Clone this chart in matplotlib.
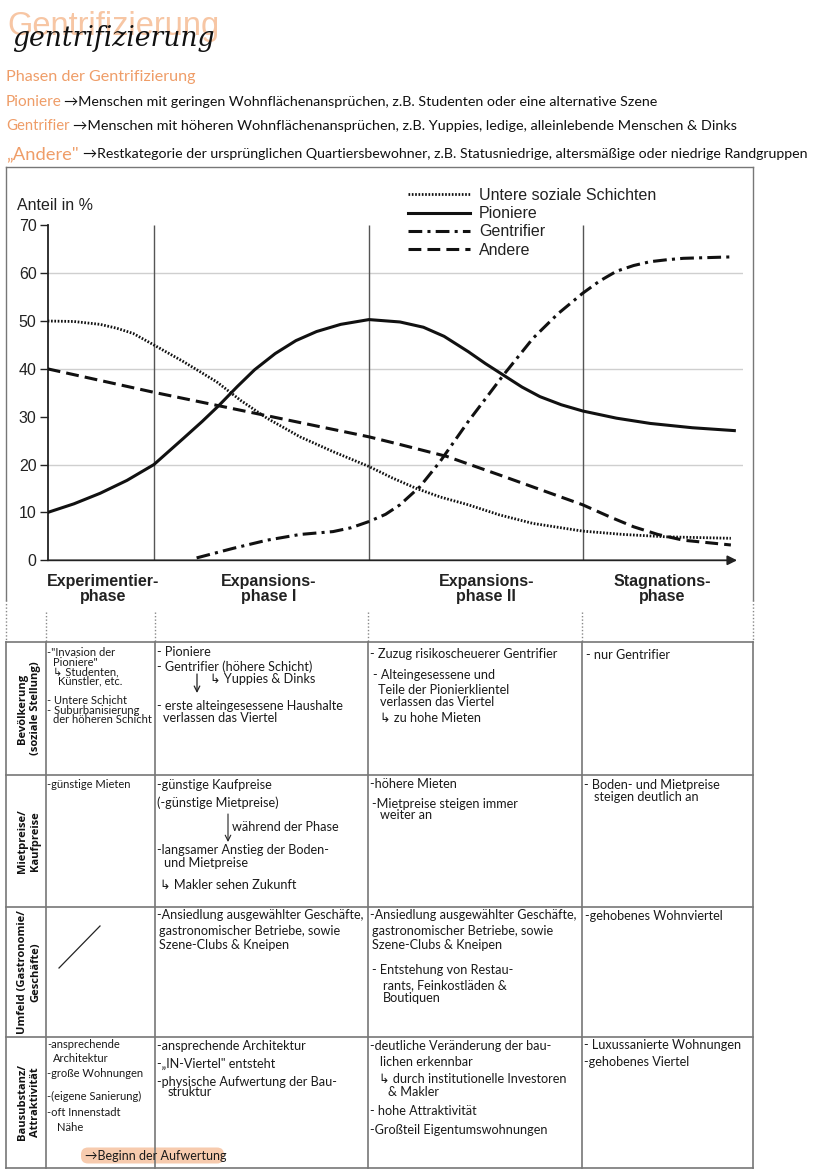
import matplotlib
matplotlib.use("Agg")
import matplotlib.pyplot as plt
from matplotlib.patches import FancyBboxPatch

# ---------------- data ----------------
y_ticks = [0, 10, 20, 30, 40, 50, 60, 70]
grid_levels = [20, 40, 60]
phase_bounds = [15.4, 46.6, 77.6]          # position units on 0..100 time axis
phase_label_pos = [8.0, 32.0, 63.6, 89.1]
phase_labels = ["Experimentier-\nphase", "Expansions-\nphase I",
                "Expansions-\nphase II", "Stagnations-\nphase"]

series_names = ["Untere soziale Schichten", "Pioniere", "Gentrifier", "Andere"]

unt_x = [0, 3.8, 7.6, 10.0, 12.4, 15.4, 19.7, 24.5, 28.0, 31.8, 36.6, 41.4, 46.6, 50.0,
         53.5, 57.0, 61.0, 65.5, 70.4, 77.6, 83.5, 89.8, 99.1]
unt_y = [50, 49.9, 49.3, 48.5, 47.4, 45.0, 41.5, 37.3, 33.4, 29.7, 25.8, 22.7, 19.6, 17.2,
         15.0, 13.2, 11.6, 9.5, 7.7, 6.1, 5.4, 4.9, 4.6]

pio_x = [0, 3.8, 7.6, 11.5, 15.4, 19.7, 22.4, 24.8, 27.5, 30.0, 33.0, 36.0, 39.0, 42.5,
         46.6, 51.1, 54.5, 57.5, 61.0, 63.5, 66.1, 68.8, 71.4, 74.5, 77.6, 82.5, 87.4,
         93.5, 99.6]
pio_y = [10, 11.8, 14.0, 16.7, 20, 25.5, 29.0, 32.3, 36.3, 39.8, 43.2, 45.9, 47.8, 49.3,
         50.3, 49.8, 48.7, 46.8, 43.6, 41.1, 38.7, 36.2, 34.2, 32.5, 31.2, 29.7, 28.6,
         27.7, 27.1]

gen_x = [21.6, 26.9, 31.8, 36.6, 41.4, 44.0, 46.6, 49.0, 51.1, 54.0, 56.9, 61.0, 66.1,
         70.4, 74.0, 77.6, 80.0, 82.5, 85.0, 87.4, 89.8, 92.2, 99.2]
gen_y = [0.5, 2.5, 4.2, 5.4, 6.0, 6.8, 8.1, 9.6, 11.6, 15.4, 20.6, 29.0, 38.7,
         46.4, 51.5, 55.8, 58.3, 60.4, 61.6, 62.4, 62.8, 63.1, 63.4]

and_x = [0, 15.4, 24.8, 46.6, 51.1, 57.9, 65.6, 77.6, 81.5, 85.0, 88.5, 92.2, 99.1]
and_y = [40, 35.1, 32.3, 25.8, 24.2, 21.7, 17.8, 11.6, 9.1, 7.0, 5.4, 4.2, 3.2]

row_labels = ["Bevölkerung\n(soziale Stellung)", "Mietpreise/\nKaufpreise",
              "Umfeld (Gastronomie/\nGeschäfte)", "Bausubstanz/\nAttraktivität"]

notes_row1 = [
    (47, 652, '-"Invasion der'), (53, 662.5, 'Pioniere"'), (53, 672, '↳ Studenten,'),
    (58, 681, 'Künstler, etc.'), (47, 700, '- Untere Schicht'), (47, 710, '- Suburbanisierung'),
    (53, 719.5, 'der höheren Schicht'),
    (157, 652, '- Pioniere'), (157, 667, '- Gentrifier (höhere Schicht)'),
    (210, 679, '↳ Yuppies & Dinks'), (157, 706, '- erste alteingesessene Haushalte'),
    (163, 717.5, 'verlassen das Viertel'),
    (370, 653.5, '- Zuzug risikoscheuerer Gentrifier'), (373, 675, '- Alteingesessene und'),
    (378, 690, 'Teile der Pionierklientel'), (380, 702, 'verlassen das Viertel'),
    (380, 717.5, '↳ zu hohe Mieten'),
    (586, 655, '- nur Gentrifier'),
]
notes_row2 = [
    (47, 784, '-günstige Mieten'),
    (157, 785, '-günstige Kaufpreise'), (157, 803, '(-günstige Mietpreise)'),
    (232, 827, 'während der Phase'), (157, 850, '-langsamer Anstieg der Boden-'),
    (164, 863, 'und Mietpreise'), (160, 885, '↳ Makler sehen Zukunft'),
    (370, 783.5, '-höhere Mieten'), (372, 803.5, '-Mietpreise steigen immer'),
    (380, 815, 'weiter an'),
    (584, 785, '- Boden- und Mietpreise'), (594, 797, 'steigen deutlich an'),
]
notes_row3 = [
    (157, 915, '-Ansiedlung ausgewählter Geschäfte,'), (159, 931, 'gastronomischer Betriebe, sowie'),
    (159, 945, 'Szene-Clubs & Kneipen'),
    (370, 915, '-Ansiedlung ausgewählter Geschäfte,'), (372, 931, 'gastronomischer Betriebe, sowie'),
    (372, 945, 'Szene-Clubs & Kneipen'), (372, 970, '- Entstehung von Restau-'),
    (383, 985, 'rants, Feinkostläden &'), (383, 998.5, 'Boutiquen'),
    (585, 916, '-gehobenes Wohnviertel'),
]
notes_row4 = [
    (47, 1045, '-ansprechende'), (53, 1058.5, 'Architektur'), (47, 1073.5, '-große Wohnungen'),
    (47, 1096.5, '-(eigene Sanierung)'), (47, 1112.5, '-oft Innenstadt'), (57, 1127.5, 'Nähe'),
    (157, 1046, '-ansprechende Architektur'), (157, 1063.5, '-„IN-Viertel" entsteht'),
    (157, 1081.5, '-physische Aufwertung der Bau-'), (168, 1092.5, 'struktur'),
    (370, 1046, '-deutliche Veränderung der bau-'), (380, 1061.5, 'lichen erkennbar'),
    (379, 1078.5, '↳ durch institutionelle Investoren'), (388, 1091.5, '& Makler'),
    (370, 1111, '- hohe Attraktivität'), (370, 1130, '-Großteil Eigentumswohnungen'),
    (584, 1045, '- Luxussanierte Wohnungen'), (584, 1062.5, '-gehobenes Viertel'),
]

# ---------------- layout ----------------
W, H = 828, 1171
fig = plt.figure(figsize=(W / 100, H / 100), dpi=100)
fig.patch.set_facecolor("white")
page = fig.add_axes([0, 0, 1, 1])
page.set_xlim(0, W)
page.set_ylim(H, 0)
page.axis("off")
renderer = fig.canvas.get_renderer()

HAND = ["Lato", "DejaVu Sans"]
ORANGE = "#ef9d68"
PEACH = "#f7c6a4"
LINE = "#777777"


def put(x, y, s, width=None, size=8, **kw):
    kw.setdefault("family", HAND)
    t = page.text(x, y, s, fontsize=size, va="center", ha="left", **kw)
    if width:
        bb = t.get_window_extent(renderer)
        t.set_fontsize(size * width / bb.width)
    return t


# header
put(7, 27, "Gentrifizierung", width=212, size=30, color=PEACH,
    family=["Liberation Sans Narrow", "Liberation Sans", "DejaVu Sans"])
put(12, 39, "gentrifizierung", width=203, size=18, color="#111111",
    family=["DejaVu Serif"], style="italic")
put(6, 76.7, "Phasen der Gentrifizierung", width=190, size=11, color=ORANGE)
put(6, 101.7, "Pioniere", width=56, size=10, color=ORANGE)
put(64.4, 101.7, "→Menschen mit geringen Wohnflächenansprüchen, z.B. Studenten oder eine alternative Szene",
    width=598, size=8, color="#111111")
put(6, 126, "Gentrifier", width=64, size=10, color=ORANGE)
put(72.9, 126, "→Menschen mit höheren Wohnflächenansprüchen, z.B. Yuppies, ledige, alleinlebende Menschen & Dinks",
    width=669, size=8, color="#111111")
put(6, 154, "„Andere\"", width=73, size=10, color=ORANGE)
put(83.4, 154, "→Restkategorie der ursprünglichen Quartiersbewohner, z.B. Statusniedrige, altersmäßige oder niedrige Randgruppen",
    width=730, size=8, color="#111111")

# chart frame + connectors
page.plot([6, 753], [167, 167], color=LINE, lw=1)
page.plot([6, 6], [167, 600], color=LINE, lw=1)
page.plot([753, 753], [167, 600], color=LINE, lw=1)
for xx in [6, 753]:
    page.plot([xx, xx], [600, 642], color="#888888", lw=1, ls=(0, (1, 1.5)))
for xx in [46, 155, 368, 582]:
    page.plot([xx, xx], [612, 642], color="#888888", lw=1, ls=(0, (1, 1.5)))

# table
cols = [6, 46, 155, 368, 582, 753]
rows = [642, 775, 907, 1037, 1168]
pill = FancyBboxPatch((81, 1147.5), 143, 16, boxstyle="round,pad=0,rounding_size=7",
                      facecolor="#f7cbae", edgecolor="none", zorder=1)
page.add_patch(pill)
for yy in rows:
    page.plot([cols[0], cols[-1]], [yy, yy], color=LINE, lw=1.2, zorder=2)
for xx in cols:
    page.plot([xx, xx], [rows[0], rows[-1]], color=LINE, lw=1.2, zorder=2)

for lab, (r0, r1) in zip(row_labels, zip(rows[:-1], rows[1:])):
    page.text(29, (r0 + r1) / 2, lab, rotation=90, ha="center", va="center",
              fontsize=8.0, fontweight="bold", family=["Open Sans", "DejaVu Sans"],
              linespacing=1.25, color="#111111")

for notes in [notes_row1, notes_row2, notes_row3, notes_row4]:
    for (xx, yy, s) in notes:
        sz = 8.0 if xx < 150 else 9.1
        put(xx, yy, s, size=sz, color="#1a1a1a", zorder=3)
put(85, 1155.5, "→Beginn der Aufwertung", size=9.0, color="#1a1a1a", zorder=3)

# hand-drawn arrows / marks
page.annotate("", xy=(197, 693), xytext=(197, 674),
              arrowprops=dict(arrowstyle="->", color="#222222", lw=0.9, shrinkA=0, shrinkB=0))
page.annotate("", xy=(228, 842), xytext=(228, 814),
              arrowprops=dict(arrowstyle="->", color="#222222", lw=0.8, shrinkA=0, shrinkB=0))
page.plot([59, 100], [968, 926], color="#222222", lw=0.9)

# ---------------- chart ----------------
def fpos(x0, y0, x1, y1):
    return [x0 / W, 1 - y1 / H, (x1 - x0) / W, (y1 - y0) / H]


ax = fig.add_axes(fpos(47.7, 225.3, 743.3, 560.3))
ax.patch.set_alpha(0)
ax.set_xlim(0, 100.9)
ax.set_ylim(0, 70)
for s in ["top", "right", "bottom"]:
    ax.spines[s].set_visible(False)
ax.spines["left"].set_color("#222222")
ax.spines["left"].set_linewidth(1.3)
ax.set_xticks([])
ax.set_yticks(y_ticks)
ax.tick_params(axis="y", length=6, width=1, pad=2, colors="#222222")
for lbl in ax.get_yticklabels():
    lbl.set_fontsize(11.5)
    lbl.set_family("Liberation Sans")
    lbl.set_color("#222222")

for g in grid_levels:
    ax.axhline(g, color="#cfcfcf", lw=1, zorder=0)
ax.vlines(phase_bounds, 0, 70, color="#555555", lw=1, zorder=1)
ax.annotate("", xy=(100, 0), xytext=(0, 0), annotation_clip=False,
            arrowprops=dict(arrowstyle="-|>", color="#222222", lw=1.3,
                            mutation_scale=14, shrinkA=0, shrinkB=0))

styles = [(0, (0.6, 0.6)), "-", (0, (4.5, 1.7, 1.0, 1.7)), (0, (4.2, 2.0))]
widths = [2.0, 2.2, 2.2, 2.2]
data = [(unt_x, unt_y), (pio_x, pio_y), (gen_x, gen_y), (and_x, and_y)]
handles = []
for (xs, ys), ls, lw, name in zip(data, styles, widths, series_names):
    (ln,) = ax.plot(xs, ys, color="#111111", lw=lw, ls=ls, label=name,
                    solid_joinstyle="round", dash_joinstyle="round", zorder=3)
    handles.append(ln)

leg = ax.legend(handles=handles, loc="upper left",
                bbox_to_anchor=(408 / W, 1 - 188 / H), bbox_transform=fig.transFigure,
                frameon=False, prop={"family": "Liberation Sans", "size": 11.5},
                handlelength=3.9, handletextpad=0.55, labelspacing=0.2,
                borderpad=0, borderaxespad=0)
for t in leg.get_texts():
    t.set_color("#222222")

page.text(17, 205, "Anteil in %", fontsize=11.5, family="Liberation Sans",
          va="center", ha="left", color="#222222")
px_per_unit = (743.3 - 47.7) / 100.9
for p, lab in zip(phase_label_pos, phase_labels):
    page.text(47.7 + p * px_per_unit, 589, lab, ha="center", va="center",
              fontsize=11.5, fontweight="bold", family="Liberation Sans",
              linespacing=1.05, color="#222222")

fig.savefig("out.png", dpi=100, facecolor="white")
